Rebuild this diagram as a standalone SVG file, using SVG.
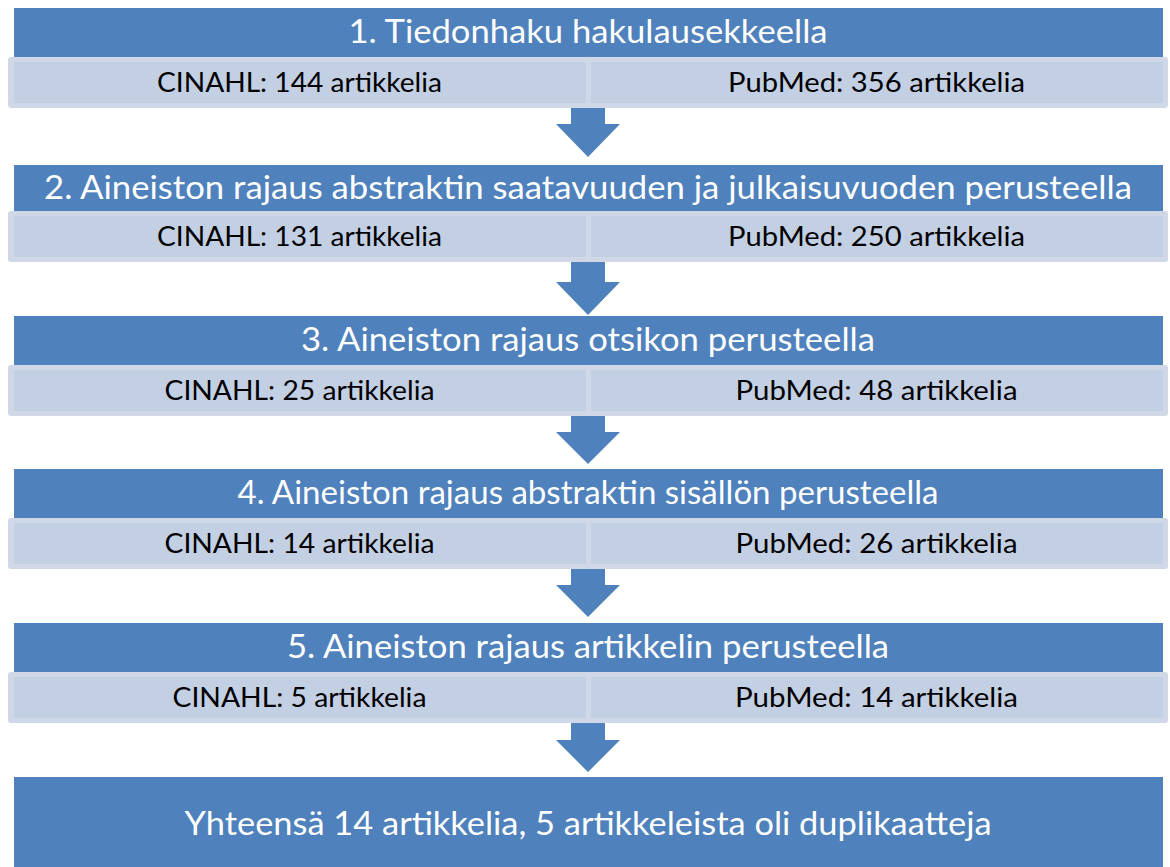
<svg xmlns="http://www.w3.org/2000/svg" width="1170" height="867" viewBox="0 0 1170 867">
<defs>
<style>
.hdr{fill:#4f81bd}
.co{fill:#d0d8e8}
.ci{fill:#c3cfe3}
.arr{fill:#4f81bd}
.ht{font-family:Lato,"Open Sans",sans-serif;font-size:32px;fill:#ffffff;text-anchor:middle}
.st{font-family:Lato,"Open Sans",sans-serif;font-size:26px;fill:#000000;text-anchor:middle}
.ft{font-family:Lato,"Open Sans",sans-serif;font-size:32px;fill:#ffffff;text-anchor:middle}
</style>
</defs>
<rect width="1170" height="867" fill="#ffffff"/>
<g id="connectors">
<path class="arr" d="M571,108 H605 V124 H620 L588,157 L556,124 H571 Z"/>
<path class="arr" d="M571,262 H605 V282 H620 L588,315 L556,282 H571 Z"/>
<path class="arr" d="M571,416 H605 V432 H620 L588,464 L556,432 H571 Z"/>
<path class="arr" d="M571,569 H605 V585 H620 L588,617 L556,585 H571 Z"/>
<path class="arr" d="M571,723 H605 V740 H620 L588,772 L556,740 H571 Z"/>
</g>
<g id="step1">
<rect class="co" x="8" y="57" width="583" height="51" rx="3"/>
<rect class="ci" x="14" y="62" width="572" height="41"/>
<rect class="co" x="586" y="57" width="582" height="51" rx="3"/>
<rect class="ci" x="591" y="62" width="572" height="41"/>
<rect class="hdr" x="14" y="8" width="1149" height="49"/>
<text class="ht" x="588" y="43" textLength="479" lengthAdjust="spacingAndGlyphs">1. Tiedonhaku hakulausekkeella</text>
<text class="st" x="299.5" y="92" textLength="285" lengthAdjust="spacingAndGlyphs">CINAHL: 144 artikkelia</text>
<text class="st" x="876.5" y="92" textLength="297" lengthAdjust="spacingAndGlyphs">PubMed: 356 artikkelia</text>
</g>
<g id="step2">
<rect class="co" x="8" y="211" width="583" height="51" rx="3"/>
<rect class="ci" x="14" y="216" width="572" height="41"/>
<rect class="co" x="586" y="211" width="582" height="51" rx="3"/>
<rect class="ci" x="591" y="216" width="572" height="41"/>
<rect class="hdr" x="14" y="165" width="1149" height="46"/>
<text class="ht" x="588" y="199" textLength="1088" lengthAdjust="spacingAndGlyphs">2. Aineiston rajaus abstraktin saatavuuden ja julkaisuvuoden perusteella</text>
<text class="st" x="299.5" y="246" textLength="285" lengthAdjust="spacingAndGlyphs">CINAHL: 131 artikkelia</text>
<text class="st" x="876.5" y="246" textLength="297" lengthAdjust="spacingAndGlyphs">PubMed: 250 artikkelia</text>
</g>
<g id="step3">
<rect class="co" x="8" y="365" width="583" height="51" rx="3"/>
<rect class="ci" x="14" y="370" width="572" height="41"/>
<rect class="co" x="586" y="365" width="582" height="51" rx="3"/>
<rect class="ci" x="591" y="370" width="572" height="41"/>
<rect class="hdr" x="14" y="316" width="1149" height="49"/>
<text class="ht" x="588" y="351" textLength="574" lengthAdjust="spacingAndGlyphs">3. Aineiston rajaus otsikon perusteella</text>
<text class="st" x="299.5" y="400" textLength="270" lengthAdjust="spacingAndGlyphs">CINAHL: 25 artikkelia</text>
<text class="st" x="876.5" y="400" textLength="282" lengthAdjust="spacingAndGlyphs">PubMed: 48 artikkelia</text>
</g>
<g id="step4">
<rect class="co" x="8" y="518" width="583" height="51" rx="3"/>
<rect class="ci" x="14" y="523" width="572" height="41"/>
<rect class="co" x="586" y="518" width="582" height="51" rx="3"/>
<rect class="ci" x="591" y="523" width="572" height="41"/>
<rect class="hdr" x="14" y="469" width="1149" height="49"/>
<text class="ht" x="588" y="504" textLength="701" lengthAdjust="spacingAndGlyphs">4. Aineiston rajaus abstraktin sisällön perusteella</text>
<text class="st" x="299.5" y="553" textLength="270" lengthAdjust="spacingAndGlyphs">CINAHL: 14 artikkelia</text>
<text class="st" x="876.5" y="553" textLength="282" lengthAdjust="spacingAndGlyphs">PubMed: 26 artikkelia</text>
</g>
<g id="step5">
<rect class="co" x="8" y="672" width="583" height="51" rx="3"/>
<rect class="ci" x="14" y="677" width="572" height="41"/>
<rect class="co" x="586" y="672" width="582" height="51" rx="3"/>
<rect class="ci" x="591" y="677" width="572" height="41"/>
<rect class="hdr" x="14" y="623" width="1149" height="49"/>
<text class="ht" x="588" y="658" textLength="602" lengthAdjust="spacingAndGlyphs">5. Aineiston rajaus artikkelin perusteella</text>
<text class="st" x="299.5" y="707" textLength="254" lengthAdjust="spacingAndGlyphs">CINAHL: 5 artikkelia</text>
<text class="st" x="876.5" y="707" textLength="283" lengthAdjust="spacingAndGlyphs">PubMed: 14 artikkelia</text>
</g>
<g id="total">
<rect class="hdr" x="14" y="777" width="1149" height="90"/>
<text class="ft" x="588" y="835" textLength="807" lengthAdjust="spacingAndGlyphs">Yhteensä 14 artikkelia, 5 artikkeleista oli duplikaatteja</text>
</g>
</svg>
